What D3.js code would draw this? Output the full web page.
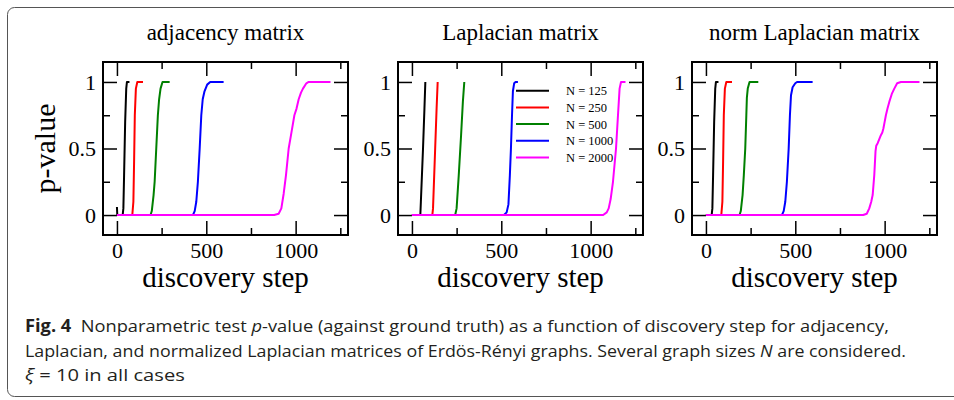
<!DOCTYPE html>
<html>
<head>
<meta charset="utf-8">
<script src="https://cdn.jsdelivr.net/npm/d3@7"></script>
<style>
  body { margin: 0; background: #fff; }
  svg { display: block; }
</style>
</head>
<body>
<svg id="chart" width="954" height="400"></svg>
<script>
// panel titles and series names
const panelTitles = ["adjacency matrix", "Laplacian matrix", "norm Laplacian matrix"];
const sizeLabels = ["N = 125", "N = 250", "N = 500", "N = 1000", "N = 2000"];
const seriesColors = ["#000000", "#ff0000", "#008000", "#0000ff", "#ff00ff"];
const xMajorTicks = [0, 500, 1000];
const xMinorTicks = [250, 750, 1250];
const yMajorTicks = [0, 0.5, 1];
const yMinorTicks = [0.25, 0.75];

// [discovery step, p-value]
const adjN125 = [[0,0.06],[2,0],[32,0],[36,0.05],[40,0.3],[46,0.7],[52,0.95],[56,1],[70,1]];
const adjN250 = [[0,0],[86,0],[92,0.1],[96,0.4],[100,0.75],[106,0.95],[114,1],[146,1]];
const adjN500 = [[0,0],[188,0],[195,0.03],[205,0.15],[211,0.25],[220,0.5],[229,0.75],[236,0.87],[244,0.95],[255,1],[295,1]];
const adjN1000 = [[0,0],[425,0],[435,0.03],[444,0.1],[453,0.25],[463,0.5],[472,0.75],[480,0.87],[490,0.93],[505,0.98],[522,1],[597,1]];
const adjN2000 = [[0,0],[880,0],[905,0.01],[920,0.05],[933,0.16],[946,0.3],[961,0.5],[974,0.6],[993,0.75],[1005,0.8],[1017,0.87],[1030,0.92],[1041,0.95],[1060,0.99],[1073,1],[1195,1]];

const lapN125 = [[0,0],[47,0],[50,0.1],[62,0.5],[70,0.8],[75,1]];
const lapN250 = [[0,0],[114,0],[118,0.05],[130,0.5],[138,0.8],[144,1]];
const lapN500 = [[0,0],[242,0],[250,0.05],[262,0.3],[275,0.6],[285,0.85],[293,1]];
const lapN1000 = [[0,0],[515,0],[530,0.02],[540,0.08],[548,0.3],[554,0.5],[560,0.75],[565,0.93],[572,0.99],[580,1],[593,1]];
const lapN2000 = [[0,0],[1070,0],[1090,0.02],[1101,0.05],[1112,0.12],[1125,0.25],[1142,0.5],[1153,0.75],[1162,0.95],[1170,1],[1195,1]];

const nlapN125 = [[0,0],[32,0],[36,0.05],[40,0.3],[46,0.7],[52,0.95],[56,1],[70,1]];
const nlapN250 = [[0,0],[86,0],[92,0.1],[96,0.4],[100,0.75],[106,0.95],[114,1],[146,1]];
const nlapN500 = [[0,0],[188,0],[195,0.03],[205,0.15],[212,0.3],[220,0.5],[226,0.75],[229,0.88],[234,0.95],[244,1],[293,1]];
const nlapN1000 = [[0,0],[425,0],[435,0.03],[444,0.1],[453,0.25],[463,0.5],[470,0.75],[476,0.9],[485,0.96],[500,0.99],[510,1],[597,1]];
const nlapN2000 = [[0,0],[880,0],[900,0.01],[914,0.05],[925,0.1],[933,0.15],[942,0.3],[949,0.48],[953,0.52],[961,0.54],[970,0.57],[979,0.6],[987,0.62],[993,0.65],[1000,0.7],[1007,0.75],[1016,0.8],[1026,0.85],[1040,0.91],[1054,0.95],[1070,0.99],[1091,1],[1195,1]];

const panelSeries = [
    [adjN125, adjN250, adjN500, adjN1000, adjN2000],
    [lapN125, lapN250, lapN500, lapN1000, lapN2000],
    [nlapN125, nlapN250, nlapN500, nlapN1000, nlapN2000]
];

const svg = d3.select("#chart");
const serif = "'Liberation Serif', 'DejaVu Serif', serif";

// outer figure box
svg.append("rect")
    .attr("x", 7.5).attr("y", 7.5)
    .attr("width", 980).attr("height", 389)
    .attr("rx", 7).attr("ry", 7)
    .attr("fill", "none")
    .attr("stroke", "#555")
    .attr("stroke-width", 1);

const panelLeft = [103, 398, 692];
const plotW = 245, plotH = 173, plotTop = 62;

const x = d3.scaleLinear().domain([-78, 1293]).range([0, plotW]);
const y = d3.scaleLinear().domain([-0.15, 1.15]).range([plotH, 0]);

const line = d3.line().x(d => x(d[0])).y(d => y(d[1]));

panelSeries.forEach((series, i) => {
    const g = svg.append("g").attr("transform", `translate(${panelLeft[i]},${plotTop})`);

    // ticks on all four sides, pointing inward
    const fmtY = d => d === 0.5 ? "0.5" : d3.format("d")(d);
    g.append("g").attr("transform", `translate(0,${plotH})`)
        .call(d3.axisBottom(x).tickValues(xMajorTicks).tickSizeInner(-14).tickSizeOuter(0).tickPadding(7).tickFormat(d3.format("d")));
    g.append("g").attr("transform", `translate(0,${plotH})`)
        .call(d3.axisBottom(x).tickValues(xMinorTicks).tickSizeInner(-7).tickSizeOuter(0).tickFormat(""));
    g.append("g")
        .call(d3.axisTop(x).tickValues(xMajorTicks).tickSizeInner(-14).tickSizeOuter(0).tickFormat(""));
    g.append("g")
        .call(d3.axisTop(x).tickValues(xMinorTicks).tickSizeInner(-7).tickSizeOuter(0).tickFormat(""));
    g.append("g")
        .call(d3.axisLeft(y).tickValues(yMajorTicks).tickSizeInner(-14).tickSizeOuter(0).tickPadding(7).tickFormat(fmtY));
    g.append("g")
        .call(d3.axisLeft(y).tickValues(yMinorTicks).tickSizeInner(-7).tickSizeOuter(0).tickFormat(""));
    g.append("g").attr("transform", `translate(${plotW},0)`)
        .call(d3.axisRight(y).tickValues(yMajorTicks).tickSizeInner(-14).tickSizeOuter(0).tickFormat(""));
    g.append("g").attr("transform", `translate(${plotW},0)`)
        .call(d3.axisRight(y).tickValues(yMinorTicks).tickSizeInner(-7).tickSizeOuter(0).tickFormat(""));
    g.selectAll(".domain").remove();
    g.selectAll(".tick line").attr("stroke", "#000").attr("stroke-width", 1.5);
    g.selectAll(".tick text")
        .attr("fill", "#000")
        .style("font-family", serif)
        .style("font-size", "22px");

    g.selectAll(".curve")
        .data(series)
        .enter().append("path")
        .attr("class", "curve")
        .attr("d", line)
        .attr("fill", "none")
        .attr("stroke", (d, k) => seriesColors[k])
        .attr("stroke-width", 2)
        .attr("stroke-linejoin", "round");

    g.append("rect")
        .attr("width", plotW).attr("height", plotH)
        .attr("fill", "none")
        .attr("stroke", "#000")
        .attr("stroke-width", 2);

    g.append("text")
        .attr("x", plotW / 2).attr("y", 40 - plotTop)
        .attr("text-anchor", "middle")
        .style("font-family", serif).style("font-size", "23px")
        .text(panelTitles[i]);

    g.append("text")
        .attr("x", plotW / 2).attr("y", 287 - plotTop)
        .attr("text-anchor", "middle")
        .style("font-family", serif).style("font-size", "29px")
        .text("discovery step");

    if (i === 0) {
        g.append("text")
            .attr("transform", `translate(${55 - panelLeft[0]},${plotH / 2}) rotate(-90)`)
            .attr("text-anchor", "middle")
            .style("font-family", serif).style("font-size", "30px")
            .text("p-value");
    }

    if (i === 1) {
        const leg = g.append("g").attr("transform", `translate(${516 - panelLeft[1]},${90.7 - plotTop})`);
        sizeLabels.forEach((lab, k) => {
            leg.append("line")
                .attr("x1", 0).attr("x2", 33)
                .attr("y1", k * 16.7).attr("y2", k * 16.7)
                .attr("stroke", seriesColors[k]).attr("stroke-width", 2);
            leg.append("text")
                .attr("x", 50).attr("y", k * 16.7 + 4.5)
                .style("font-family", serif).style("font-size", "12.5px")
                .text(lab);
        });
    }
});

// caption
const capFont = "'Open Sans', 'Noto Sans', sans-serif";
const capLines = [
    { y: 332, w: 865, parts: [["Fig. 4", "bold", "normal"], ["  Nonparametric test ", "normal", "normal"], ["p", "normal", "italic"], ["-value (against ground truth) as a function of discovery step for adjacency,", "normal", "normal"]] },
    { y: 357, w: 882, parts: [["Laplacian, and normalized Laplacian matrices of Erdös-Rényi graphs. Several graph sizes ", "normal", "normal"], ["N", "normal", "italic"], [" are considered.", "normal", "normal"]] },
    { y: 381, w: 160, parts: [["ξ", "normal", "italic"], [" = 10 in all cases", "normal", "normal"]] }
];
capLines.forEach(c => {
    const t = svg.append("text")
        .attr("x", 0).attr("y", 0)
        .style("font-family", capFont).style("font-size", "17px")
        .attr("fill", "#231f20")
        .attr("xml:space", "preserve");
    c.parts.forEach(p => {
        t.append("tspan").style("font-weight", p[1]).style("font-style", p[2]).text(p[0]);
    });
    const natural = t.node().getComputedTextLength();
    t.attr("transform", `translate(25,${c.y}) scale(${c.w / natural},1)`);
});
</script>
</body>
</html>
